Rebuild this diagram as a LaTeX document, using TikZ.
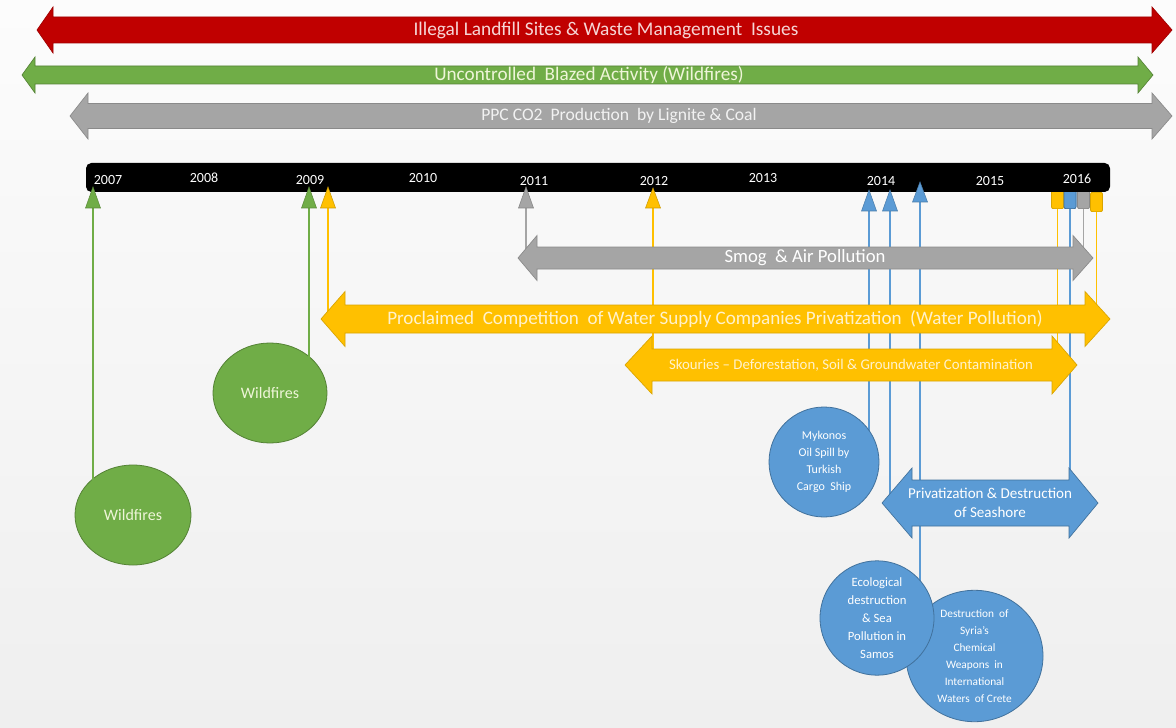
\documentclass[tikz,border=0pt]{standalone}
\usepackage{fontspec}
\setmainfont{Carlito}
\usetikzlibrary{shapes.geometric,calc}
\definecolor{cred}{HTML}{C00000}
\definecolor{credd}{HTML}{A00000}
\definecolor{cgreen}{HTML}{70AD47}
\definecolor{cgreend}{HTML}{548235}
\definecolor{cgray}{HTML}{A5A5A5}
\definecolor{cgrayd}{HTML}{8A8A8A}
\definecolor{cyel}{HTML}{FFC000}
\definecolor{cyeld}{HTML}{D9A400}
\definecolor{cblue}{HTML}{5B9BD5}
\definecolor{cblued}{HTML}{41719C}
\definecolor{tred}{HTML}{F6D6D6}
\definecolor{tgreen}{HTML}{EEF5D8}
\definecolor{tgray}{HTML}{F2F2F2}
\definecolor{tyel}{HTML}{FFF2CC}
\definecolor{bgtop}{HTML}{FCFCFC}
\definecolor{bgbot}{HTML}{EFEFEF}
\newcommand{\dbarrow}[9]{%
  \path[#9] (#2,#4) -- ({#2+#7},{#4-#6}) -- ({#2+#7},{#4-#5}) -- ({#3-#8},{#4-#5}) -- ({#3-#8},{#4-#6}) -- (#3,#4) -- ({#3-#8},{#4+#6}) -- ({#3-#8},{#4+#5}) -- ({#2+#7},{#4+#5}) -- ({#2+#7},{#4+#6}) -- cycle;
  \coordinate (#1) at ({(#2+#3)/2},#4);}
\newcommand{\tmark}[5]{%
  \path[fill=#5, draw=#5!80!black, line width=0.4pt] (#2,#3) -- ({#2-7.5},#4) -- ({#2+7.5},#4) -- cycle;
  \coordinate (#1) at (#2,#4);}
\tikzset{
  conn/.style={line width=0.9pt},
  yearlbl/.style={text=white, font=\fontsize{10.5}{12}\selectfont, inner sep=0pt},
  rmark/.style={rectangle, rounded corners=1.5pt, minimum width=9pt, minimum height=14.5pt, inner sep=0pt, line width=0.5pt},
  bubble/.style={ellipse, inner sep=0pt, line width=0.6pt, align=center},
  atext/.style={inner sep=0pt, align=center}
}
\begin{document}
\begin{tikzpicture}[x=0.75pt,y=-0.75pt]
\useasboundingbox (0,0) rectangle (1176,727);
\shade[top color=bgtop, bottom color=bgbot] (0,0) rectangle (1176,727);

% markers geometry (coordinates first)
\coordinate (m07) at (93,208);
\coordinate (m09g) at (309,208);
\coordinate (m09y) at (328,208);
\coordinate (m11) at (526,208);
\coordinate (m12) at (653,208);
\coordinate (m14a) at (869,211);
\coordinate (m14b) at (890,211);
\coordinate (m14c) at (920,202);

% shapes for endpoints
\node[bubble, minimum width=87pt, minimum height=75pt, fill=cgreen, draw=cgreend, text=tgreen, font=\fontsize{12}{14}\selectfont] (w1) at (133,515) {Wildfires};
\node[bubble, minimum width=85.5pt, minimum height=75pt, fill=cgreen, draw=cgreend, text=tgreen, font=\fontsize{12}{14}\selectfont] (w2) at (270,393) {Wildfires};

\coordinate (smog) at (805,258);
\coordinate (water) at (715,319);
\coordinate (skour) at (851,365);
\coordinate (sea) at (990,503);
\coordinate (mykc) at (824,462);
\coordinate (syrc) at (974.5,656);

% connectors (drawn behind shapes)
\draw[conn, cgreen] (m07) -- (m07 |- w1.center);
\draw[conn, cgreen] (m09g) -- (m09g |- w2.center);
\draw[conn, cyel] (m09y) -- (m09y |- water);
\draw[conn, cgray] (m11) -- (m11 |- smog);
\draw[conn, cyel] (m12) -- (m12 |- skour);
\draw[conn, cblue] (m14a) -- (m14a |- mykc);
\draw[conn, cblue] (m14b) -- (m14b |- sea);
\draw[conn, cblue] (m14c) -- (m14c |- syrc);

% right-end rounded markers
\node[rmark, fill=cyel, draw=cyeld] (r1) at (1057.5,199) {};
\node[rmark, fill=cblue, draw=cblued] (r2) at (1070,199) {};
\node[rmark, fill=cgray, draw=cgrayd] (r3) at (1083.5,199) {};
\node[rmark, fill=cyel, draw=cyeld] (r4) at (1096.5,202) {};
\draw[conn, cyel] (r1.south) -- (r1.south |- skour);
\draw[conn, cblue] (r2.south) -- (r2.south |- sea);
\draw[conn, cgray] (r3.south) -- (r3.south |- smog);
\draw[conn, cyel] (r4.south) -- (r4.south |- water);
% redraw markers over lines
\node[rmark, fill=cyel, draw=cyeld] at (1057.5,199) {};
\node[rmark, fill=cblue, draw=cblued] at (1070,199) {};
\node[rmark, fill=cgray, draw=cgrayd] at (1083.5,199) {};
\node[rmark, fill=cyel, draw=cyeld] at (1096.5,202) {};

% top arrows
\dbarrow{redA}{37}{1172}{30}{13}{23}{16}{20}{fill=cred, draw=credd, line width=0.5pt}
\dbarrow{greenA}{22}{1153}{75}{9}{18}{13}{15}{fill=cgreen, draw=cgreend, line width=0.5pt}
\dbarrow{grayA}{70}{1172}{116}{12.5}{23}{18}{20}{fill=cgray, draw=cgrayd, line width=0.5pt}
\node[atext, text=tred, font=\fontsize{14.5}{16}\selectfont] (redT) at (606,30) {Illegal Landfill Sites \& Waste Management~ Issues};
\node[atext, text=tgreen, font=\fontsize{14.4}{16}\selectfont] (greenT) at (589,75) {Uncontrolled~ Blazed Activity (Wildfires)};
\node[atext, text=tgray, font=\fontsize{13.2}{15}\selectfont] (grayT) at (619,116) {PPC CO2~ Production~ by Lignite \& Coal};

% timeline bar
\node[rectangle, rounded corners=4pt, fill=black, minimum width=768pt, minimum height=21.75pt, inner sep=0pt] (bar) at (598,177.5) {};
\node[yearlbl] (y07) at (108,180) {2007};
\node[yearlbl] (y08) at (204,178) {2008};
\node[yearlbl] (y09) at (310,180) {2009};
\node[yearlbl] (y10) at (423,178) {2010};
\node[yearlbl] (y11) at (534,181) {2011};
\node[yearlbl] (y12) at (654,181) {2012};
\node[yearlbl] (y13) at (763,178) {2013};
\node[yearlbl] (y14) at (881,181) {2014};
\node[yearlbl] (y15) at (990,181) {2015};
\node[yearlbl] (y16) at (1077,179) {2016};

% triangle markers
\tmark{t07}{93}{187}{208}{cgreen}
\tmark{t09g}{309}{187}{208}{cgreen}
\tmark{t09y}{328}{187}{208}{cyel}
\tmark{t11}{526}{187}{208}{cgray}
\tmark{t12}{653}{188}{208}{cyel}
\tmark{t14a}{869}{190}{211}{cblue}
\tmark{t14b}{890}{190}{211}{cblue}
\tmark{t14c}{920}{182}{202}{cblue}

% middle arrows
\dbarrow{smogA}{518}{1093}{258}{11}{22.5}{19}{20}{fill=cgray, draw=cgrayd, line width=0.5pt}
\dbarrow{waterA}{321}{1110}{319}{14}{27.5}{24}{25}{fill=cyel, draw=cyeld, line width=0.5pt}
\dbarrow{skourA}{625}{1077}{365}{16}{29}{27}{25}{fill=cyel, draw=cyeld, line width=0.5pt}
\dbarrow{seaA}{882}{1098}{503}{23}{35}{30}{29}{fill=cblue, draw=cblued, line width=0.5pt}
\node[atext, text=white, font=\fontsize{14}{16}\selectfont] (smogT) at (805,258) {Smog~ \& Air Pollution};
\node[atext, text=tyel, font=\fontsize{14.3}{16}\selectfont] (waterT) at (715,319) {Proclaimed~ Competition~ of Water Supply Companies Privatization~ (Water Pollution)};
\node[atext, text=tyel, font=\fontsize{11.1}{13}\selectfont] (skourT) at (851,365) {Skouries -- Deforestation, Soil \& Groundwater Contamination};
\node[atext, text=white, font=\fontsize{11.3}{14}\selectfont] (seaT) at (990,503) {Privatization \& Destruction\\of Seashore};

% blue bubbles
\node[bubble, minimum width=82.5pt, minimum height=82.5pt, fill=cblue, draw=cblued, text=white, font=\fontsize{9}{12.75}\selectfont] (myk) at (mykc) {Mykonos\\Oil Spill by\\Turkish\\Cargo~ Ship};
\node[bubble, minimum width=102.75pt, minimum height=91.5pt, fill=cblue, draw=cblued, text=white, font=\fontsize{8.5}{12.75}\selectfont] (syr) at (syrc) {Destruction~ of\\Syria's\\Chemical\\Weapons~ in\\International\\Waters~ of Crete};
\node[bubble, minimum width=85.5pt, minimum height=84pt, fill=cblue, draw=cblued, text=white, font=\fontsize{9.5}{13.5}\selectfont] (eco) at (877,618) {Ecological\\destruction\\\& Sea\\Pollution in\\Samos};
\end{tikzpicture}
\end{document}
